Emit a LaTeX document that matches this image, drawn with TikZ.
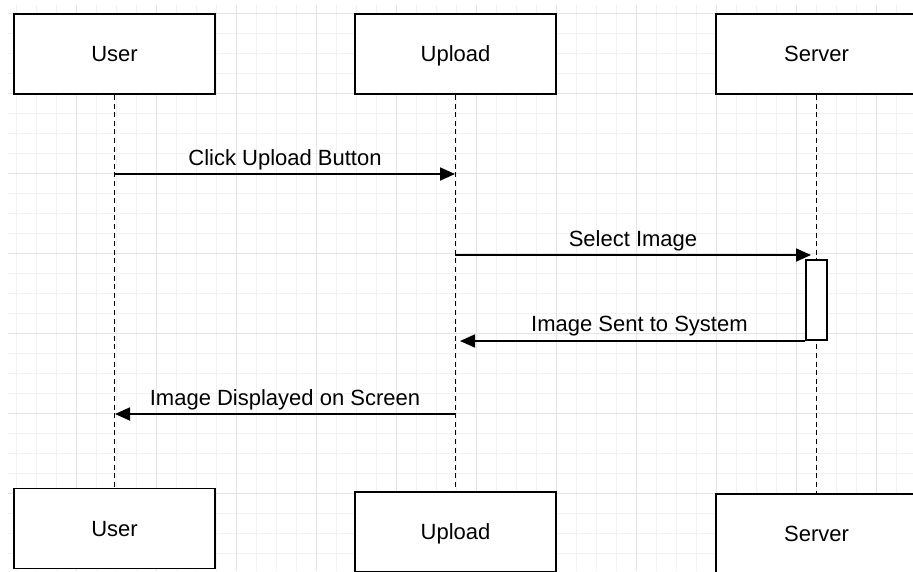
\documentclass[tikz,border=0pt]{standalone}
\usepackage{fontspec}
\setmainfont{Liberation Sans}
\usepackage{xcolor}
\usetikzlibrary{arrows.meta}
\usetikzlibrary{positioning}
\definecolor{gridminor}{HTML}{F2F2F2}
\definecolor{gridmajor}{HTML}{E4E4E4}

\begin{document}
\begin{tikzpicture}[x=1pt, y=-1pt,
	actor/.style={draw, line width=1.8pt, fill=white, minimum width=201pt, minimum height=80pt, inner sep=0pt, text height=20.8pt, text depth=5pt, font=\fontsize{22}{26}\selectfont},
	life/.style={line width=1.8pt, dash pattern=on 5pt off 3.6pt},
	msg/.style={line width=1.8pt, -{Triangle[length=15pt, width=13pt]}},
	lbl/.style={anchor=base, inner sep=0pt, yshift=9pt, font=\fontsize{22}{26}\selectfont}]
	\clip (0,0) rectangle (913,571);
	% draw grid
	\foreach \gx in {16,36,...,896} \draw[gridminor, line width=1pt] (\gx,5) -- (\gx,571);
	\foreach \gy in {13,33,...,553} \draw[gridminor, line width=1pt] (8,\gy) -- (913,\gy);
	\foreach \gx in {76,156,...,876} \draw[gridmajor, line width=1pt] (\gx,5) -- (\gx,571);
	\foreach \gy in {13,93,...,493} \draw[gridmajor, line width=1pt] (8,\gy) -- (913,\gy);
	
	% actors
	\node[actor] (userTop) at (114.5,54) {User};
	\node[actor] (uploadTop) at (455.5,54) {Upload};
	\node[actor] (serverTop) at (816.5,54) {Server};
	\node[actor] (userBot) at (114.5,528.5) {User};
	\node[actor] (uploadBot) at (455.5,532) {Upload};
	\node[actor] (serverBot) at (816.5,534) {Server};
	
	% lifelines
	\draw[life] (userTop.south) -- (userBot.north);
	\draw[life] (uploadTop.south) -- (uploadBot.north);
	\draw[life] (serverTop.south) -- (serverBot.north);
	
	% activation
	\node[draw, fill=white, line width=1.8pt, minimum width=21pt, minimum height=80pt, inner sep=0pt] (act) at (816.5,300) {};
	
	% message ends
	\coordinate (clickA) at (115,174);
	\coordinate (clickB) at (455,174);
	\coordinate (selA) at (455,255);
	\coordinate (selB) at (811,255);
	\coordinate (sentB) at (460,341);
	\coordinate (showA) at (455,414);
	\coordinate (showB) at (115,414);
	
	% messages
	\draw[msg] (clickA) -- (clickB) node[lbl, midway] {Click Upload Button};
	\draw[msg] (selA) -- (selB) node[lbl, midway] {Select Image};
	\draw[msg] (act.south west) -- (sentB) node[lbl, pos=0.48] {Image Sent to System};
	\draw[msg] (showA) -- (showB) node[lbl, midway] {Image Displayed on Screen};
\end{tikzpicture}
\end{document}
